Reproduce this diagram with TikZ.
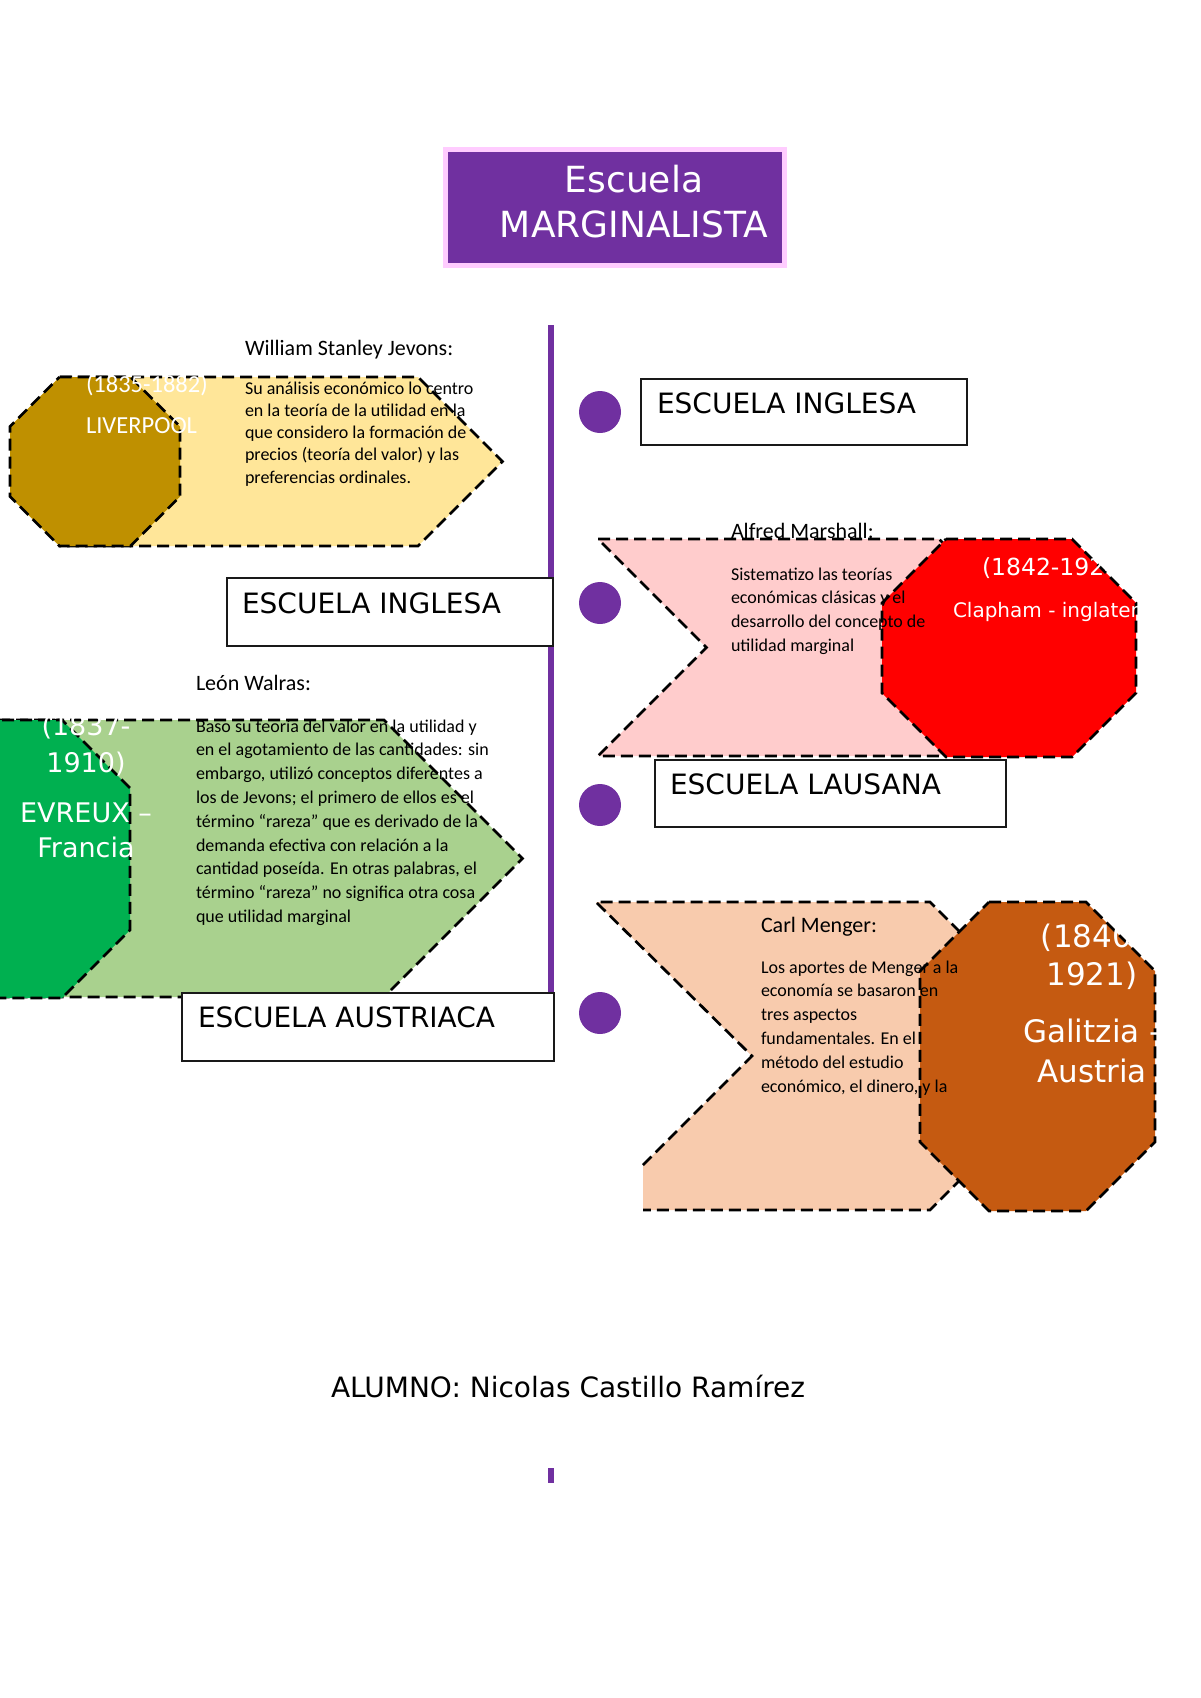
\documentclass[tikz,border=0pt]{standalone}
\usepackage{fontspec}
\setmainfont{DejaVu Sans}
\newfontfamily\calfont{Carlito}
\definecolor{mpurple}{HTML}{7030A0}
\definecolor{mpink}{HTML}{FFCCFF}
\definecolor{jevdark}{HTML}{BF9000}
\definecolor{jevlight}{HTML}{FFE699}
\definecolor{waldark}{HTML}{00B050}
\definecolor{wallight}{HTML}{A9D18E}
\definecolor{marlight}{HTML}{FFCCCC}
\definecolor{mardark}{HTML}{FF0000}
\definecolor{menlight}{HTML}{F8CBAD}
\definecolor{mendark}{HTML}{C55A11}
\tikzset{
  dashline/.style={draw=black, line width=2.7pt, dash pattern=on 12pt off 6pt},
  lblbox/.style={draw=black!90, line width=1.5pt, fill=white},
  txt/.style={anchor=base west, inner sep=0pt, outer sep=0pt},
  ctxt/.style={anchor=base, inner sep=0pt, outer sep=0pt},
  headfont/.style={font=\calfont\fontsize{22}{26}\selectfont},
  lblfont/.style={font=\fontsize{28}{33}\selectfont},
}
\begin{document}
\begin{tikzpicture}[x=1pt,y=-1pt]
\useasboundingbox (0,0) rectangle (1200,1698);
\clip (0,0) rectangle (1200,1698);

% title
\path[fill=mpurple, draw=mpink, line width=5pt] (445.5,149.5) rectangle (784.5,265.5);
\node[ctxt, text=white, font=\fontsize{36}{45}\selectfont] (title) at (634,192)
  {\parbox[t]{330pt}{\centering Escuela\\MARGINALISTA}};

% timeline
\coordinate (ltop) at (551,325);
\coordinate (lbot) at (551,994);
\draw[mpurple, line width=6pt] (ltop) -- (lbot);
\fill[mpurple] (548,1468) rectangle (554,1483);

% dots
\fill[mpurple] (600,412) circle (21);
\fill[mpurple] (600,603) circle (21);
\fill[mpurple] (600,805) circle (21);
\fill[mpurple] (600,1013) circle (21);

% ---------- Jevons ----------
\path[fill=jevlight, dashline] (60,377) -- (418,377) -- (502.5,461.5) -- (418,546) -- (60,546) -- cycle;
\path[fill=jevdark, dashline] (59.5,377) -- (130.5,377) -- (180,426.5) -- (180,496.5) -- (130.5,546) -- (59.5,546) -- (10,496.5) -- (10,426.5) -- cycle;
\node[txt, headfont] (jevname) at (245,355) {William Stanley Jevons:};
\node[txt, font=\calfont\fontsize{18}{22.3}\selectfont] (jevtext) at (245,394)
  {\parbox[t]{320pt}{\raggedright Su análisis económico lo centro\\
   en la teoría de la utilidad en la\\
   que considero la formación de\\
   precios (teoría del valor) y las\\
   preferencias ordinales.}};
\node[txt, text=white, font=\calfont\fontsize{24.5}{29}\selectfont] (jevyear) at (86,392) {(1835-1882)};
\node[txt, text=white, font=\calfont\fontsize{24.5}{29}\selectfont] (jevplace) at (86,433) {LIVERPOOL};

% left label 1
\path[lblbox] (227,578) rectangle (553,646);
\node[txt, lblfont] (lblinglesa2) at (242,613) {ESCUELA INGLESA};

% ---------- Walras ----------
\node[txt, headfont] (walname) at (196,690) {León Walras:};
\path[fill=wallight, dashline] (-20,720) -- (384,720) -- (522.5,858.5) -- (384,997) -- (-20,997) -- cycle;
\path[fill=waldark, dashline] (-34,720) -- (62,720) -- (130,788) -- (130,930) -- (62,998) -- (-34,998) -- (-102,930) -- (-102,788) -- cycle;
\node[txt, font=\calfont\fontsize{18}{23.8}\selectfont] (waltext) at (196,732)
  {\parbox[t]{340pt}{\raggedright Baso su teoría del valor en la utilidad y\\
   en el agotamiento de las cantidades: sin\\
   embargo, utilizó conceptos diferentes a\\
   los de Jevons; el primero de ellos es el\\
   término “rareza” que es derivado de la\\
   demanda efectiva con relación a la\\
   cantidad poseída. En otras palabras, el\\
   término “rareza” no significa otra cosa\\
   que utilidad marginal}};
\node[ctxt, text=white, font=\fontsize{27}{37}\selectfont] (walyear) at (86,735)
  {\parbox[t]{200pt}{\centering (1837-\\1910)}};
\node[ctxt, text=white, font=\fontsize{27}{35}\selectfont] (walplace) at (86,822)
  {\parbox[t]{200pt}{\centering EVREUX –\\Francia}};

% left label 2
\path[lblbox] (182,993) rectangle (554,1061);
\node[txt, lblfont] (lblaustriaca) at (198,1027) {ESCUELA AUSTRIACA};

% right label 1
\path[lblbox] (641,379) rectangle (967,445);
\node[txt, lblfont] (lblinglesa1) at (657,413) {ESCUELA INGLESA};

% ---------- Marshall ----------
\path[fill=marlight, dashline] (598,539) -- (939,539) -- (1047.5,647.5) -- (939,756) -- (598,756) -- (706.5,647.5) -- cycle;
\path[fill=mardark, dashline] (946,539) -- (1072,539) -- (1136,603) -- (1136,693) -- (1072,757) -- (946,757) -- (882,693) -- (882,603) -- cycle;
\node[txt, headfont] (marname) at (731,538) {Alfred Marshall:};
\node[txt, font=\calfont\fontsize{18}{23.7}\selectfont] (martext) at (731,580)
  {\parbox[t]{300pt}{\raggedright Sistematizo las teorías\\
   económicas clásicas y el\\
   desarrollo del concepto de\\
   utilidad marginal}};
\node[txt, text=white, font=\fontsize{23.5}{28}\selectfont] (maryear) at (982,575) {(1842-1924)};
\node[txt, text=white, font=\fontsize{20}{24}\selectfont] (marplace) at (953,617) {Clapham - inglaterra};

% right label 2
\path[lblbox] (655,760) rectangle (1006,827);
\node[txt, lblfont] (lbllausana) at (670,794) {ESCUELA LAUSANA};

% ---------- Menger ----------
\path[fill=menlight] (596,902) -- (930,902) -- (1084,1056) -- (930,1210) -- (643,1210) -- (643,1165) -- (752,1056) -- cycle;
\draw[dashline] (643,1165) -- (752,1056) -- (596,902) -- (930,902) -- (1084,1056) -- (930,1210) -- (643,1210);
\path[fill=mendark, dashline] (989,902) -- (1086,902) -- (1155,971) -- (1155,1142) -- (1086,1211) -- (989,1211) -- (920,1142) -- (920,971) -- cycle;
\node[txt, headfont] (menname) at (761,932) {Carl Menger:};
\node[txt, font=\calfont\fontsize{18}{23.8}\selectfont] (mentext) at (761,973)
  {\parbox[t]{300pt}{\raggedright Los aportes de Menger a la\\
   economía se basaron en\\
   tres aspectos\\
   fundamentales. En el\\
   método del estudio\\
   económico, el dinero, y la}};
\node[ctxt, text=white, font=\fontsize{31}{38}\selectfont] (menyear) at (1092,947)
  {\parbox[t]{220pt}{\centering (1840-\\1921)}};
\node[ctxt, text=white, font=\fontsize{31}{40}\selectfont] (menplace) at (1092,1042)
  {\parbox[t]{220pt}{\centering Galitzia -\\Austria}};

% footer
\node[txt, font=\fontsize{28}{34}\selectfont] (alumno) at (331,1397) {ALUMNO: Nicolas Castillo Ramírez};
\end{tikzpicture}
\end{document}
